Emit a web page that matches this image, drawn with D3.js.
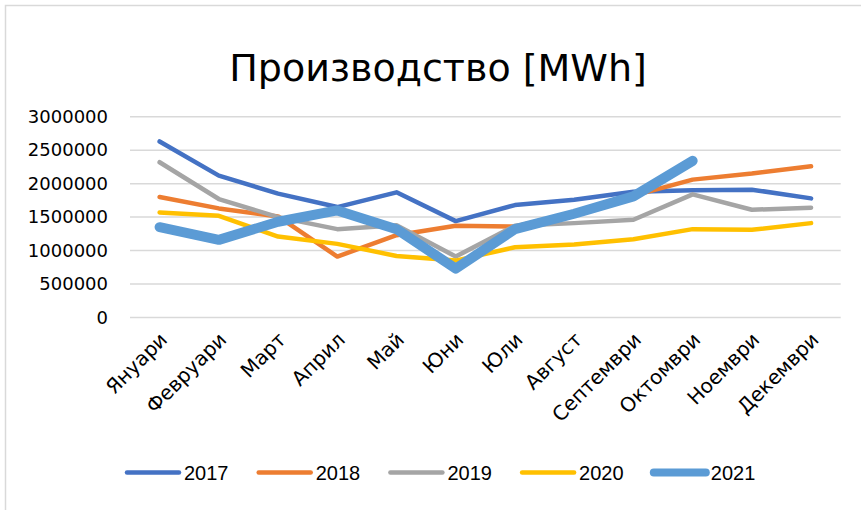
<!DOCTYPE html>
<html>
<head>
<meta charset="utf-8">
<script src="https://cdn.jsdelivr.net/npm/d3@7"></script>
<style>
  body { margin: 0; background: #fff; }
  svg { display: block; }
</style>
</head>
<body>
<div id="chart"></div>
<script>
var months = ["Януари", "Февруари", "Март", "Април", "Май", "Юни", "Юли", "Август", "Септември", "Октомври", "Ноември", "Декември"];
var years = ["2017", "2018", "2019", "2020", "2021"];
var yTicks = [0, 500000, 1000000, 1500000, 2000000, 2500000, 3000000];

var v2017 = [2630000, 2120000, 1850000, 1650000, 1870000, 1440000, 1680000, 1760000, 1880000, 1900000, 1910000, 1780000];
var v2018 = [1800000, 1630000, 1510000, 910000, 1230000, 1370000, 1360000, 1560000, 1820000, 2060000, 2150000, 2260000];
var v2019 = [2320000, 1770000, 1500000, 1320000, 1380000, 910000, 1370000, 1410000, 1460000, 1840000, 1610000, 1640000];
var v2020 = [1570000, 1520000, 1210000, 1100000, 920000, 850000, 1050000, 1090000, 1170000, 1320000, 1310000, 1410000];
var v2021 = [1350000, 1160000, 1430000, 1600000, 1320000, 730000, 1320000, 1550000, 1810000, 2340000];

var colors = ["#4472C4", "#ED7D31", "#A5A5A5", "#FFC000", "#5B9BD5"];
var widths = [4.5, 4.5, 4.5, 4.5, 10];

var W = 861, H = 510;
var svg = d3.select("#chart").append("svg")
    .attr("width", W)
    .attr("height", H);

// chart area frame (only top/left show in the crop)
svg.append("path")
    .attr("d", "M5.5," + (H + 5) + "V5.5H" + (W + 5))
    .attr("fill", "none")
    .attr("stroke", "#d9d9d9")
    .attr("stroke-width", 1.5);

svg.append("text")
    .attr("x", 438)
    .attr("y", 81)
    .attr("text-anchor", "middle")
    .style("font-family", "DejaVu Sans, sans-serif")
    .style("font-size", "38px")
    .attr("fill", "#000")
    .text("Производство [MWh]");

var x = d3.scalePoint()
    .domain(months)
    .range([130, 840.7])
    .padding(0.5);

var y = d3.scaleLinear()
    .domain([0, 3000000])
    .range([317.5, 116.7]);

// horizontal gridlines
svg.append("g").selectAll("line")
    .data(yTicks)
    .enter().append("line")
    .attr("x1", 130)
    .attr("x2", 840.7)
    .attr("y1", function(d) { return y(d); })
    .attr("y2", function(d) { return y(d); })
    .attr("stroke", "#d9d9d9")
    .attr("stroke-width", 1.5);

var yAxis = svg.append("g")
    .attr("transform", "translate(108,0)")
    .call(d3.axisLeft(y).tickValues(yTicks).tickSize(0).tickPadding(0).tickFormat(d3.format("d")));
yAxis.select(".domain").remove();
yAxis.selectAll("text")
    .style("font-family", "DejaVu Sans, sans-serif")
    .style("font-size", "18px")
    .attr("fill", "#000");

// month labels, rotated
svg.append("g").selectAll("text")
    .data(months)
    .enter().append("text")
    .attr("transform", function(d) { return "translate(" + (x(d) + 4) + ",336) rotate(-45)"; })
    .attr("text-anchor", "end")
    .attr("dy", "0.35em")
    .style("font-family", "DejaVu Sans, sans-serif")
    .style("font-size", "20px")
    .attr("fill", "#000")
    .text(function(d) { return d; });

var series = [v2017, v2018, v2019, v2020, v2021];

var line = d3.line()
    .x(function(d, i) { return x(months[i]); })
    .y(function(d) { return y(d); });

svg.append("g").selectAll("path")
    .data(series)
    .enter().append("path")
    .attr("d", function(d) { return line(d); })
    .attr("fill", "none")
    .attr("stroke", function(d, i) { return colors[i]; })
    .attr("stroke-width", function(d, i) { return widths[i]; })
    .attr("stroke-linejoin", "round")
    .attr("stroke-linecap", "round");

// legend
var legend = svg.append("g").selectAll("g")
    .data(years)
    .enter().append("g")
    .attr("transform", function(d, i) { return "translate(" + (127 + i * 131.7) + ",472.5)"; });

legend.append("line")
    .attr("x1", 0)
    .attr("x2", 52)
    .attr("stroke", function(d, i) { return colors[i]; })
    .attr("stroke-width", function(d, i) { return i == 4 ? 8 : 4.5; })
    .attr("stroke-linecap", "round");

legend.append("text")
    .attr("x", 57)
    .attr("dy", "0.36em")
    .style("font-family", "Liberation Sans, sans-serif")
    .style("font-size", "20px")
    .attr("fill", "#000")
    .text(function(d) { return d; });
</script>
</body>
</html>
